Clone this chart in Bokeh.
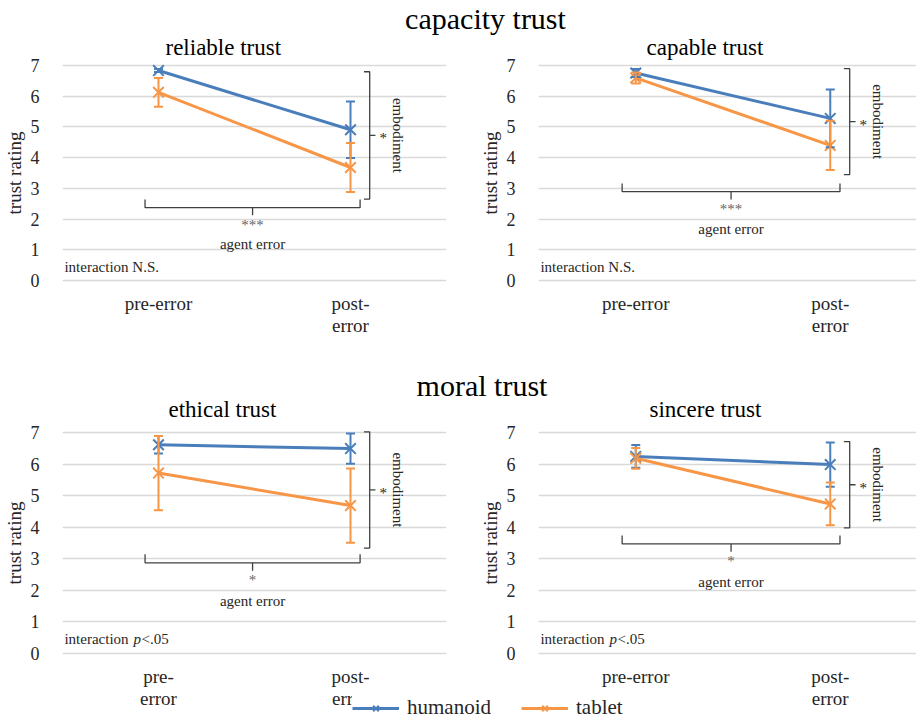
import math
from bokeh.plotting import figure
from bokeh.layouts import column, row
from bokeh.models import (Range1d, FixedTicker, Label, Legend, LegendItem,
                          ColumnDataSource, Whisker, TeeHead)
from bokeh.core.properties import value
from bokeh.embed import file_html
from bokeh.resources import INLINE

# ---------------- data ----------------
categories = ["pre-error", "post-error"]
series_names = ["humanoid", "tablet"]
group_titles = ["capacity trust", "moral trust"]
panel_titles = ["reliable trust", "capable trust", "ethical trust", "sincere trust"]

reliable_humanoid = [6.84, 4.91]
reliable_humanoid_err = [0.05, 0.92]
reliable_tablet = [6.13, 3.68]
reliable_tablet_err = [0.47, 0.80]

capable_humanoid = [6.76, 5.28]
capable_humanoid_err = [0.13, 0.94]
capable_tablet = [6.60, 4.40]
capable_tablet_err = [0.18, 0.80]

ethical_humanoid = [6.62, 6.50]
ethical_humanoid_err = [0.28, 0.48]
ethical_tablet = [5.72, 4.69]
ethical_tablet_err = [1.18, 1.18]

sincere_humanoid = [6.25, 5.99]
sincere_humanoid_err = [0.36, 0.70]
sincere_tablet = [6.19, 4.74]
sincere_tablet_err = [0.33, 0.68]

y_ticks = [0, 1, 2, 3, 4, 5, 6, 7]
tick_labels = [["pre-error", "post-\nerror"],
               ["pre-error", "post-\nerror"],
               ["pre-\nerror", "post-\nerror"],
               ["pre-error", "post-\nerror"]]

agent_error_sig = ["***", "***", "*", "*"]
embodiment_sig = ["*", "*", "*", "*"]
interaction_result = ["N.S.", "N.S.", "p<.05", "p<.05"]

# significance bracket levels
agent_bracket_y = [2.37, 2.89, 2.87, 3.47]
embodiment_top = [6.80, 6.90, 7.03, 6.72]
embodiment_bottom = [2.65, 3.45, 3.34, 3.98]

# ---------------- style ----------------
BLUE = "#4A7EBB"
ORANGE = "#F79646"
FONT = "Liberation Serif"
TXT = "#262626"
UNIT = 194.5  # px per category unit
NAN = float("nan")
title_offset = [103, 108, 106, 111]
title_standoff = [0, 0, 10, 10]
MARKER = 15


def make_panel(idx, h_mean, h_err, t_mean, t_err, width, height,
               bl, br, bt, bb):
    frame_w = width - bl - br
    p = figure(width=width, height=height,
               x_range=Range1d(0, frame_w / UNIT), y_range=Range1d(-0.2, 7.2),
               output_backend="svg", toolbar_location=None,
               min_border_left=bl, min_border_right=br,
               min_border_top=bt, min_border_bottom=bb)
    p.outline_line_color = None
    p.background_fill_color = "white"
    p.border_fill_alpha = 0

    p.title.text = panel_titles[idx]
    p.title.text_font = FONT
    p.title.text_font_size = "23px"
    p.title.text_font_style = "normal"
    p.title.text_color = "#000000"
    p.title.align = "left"
    p.title.offset = title_offset[idx]
    p.title.standoff = title_standoff[idx]

    p.xgrid.visible = False
    p.ygrid.grid_line_color = "#D9D9D9"
    p.ygrid.grid_line_width = 1.3
    p.yaxis.ticker = FixedTicker(ticks=y_ticks)
    p.yaxis.axis_line_color = None
    p.yaxis.major_tick_line_color = None
    p.yaxis.minor_tick_line_color = None
    p.yaxis.major_label_text_font = FONT
    p.yaxis.major_label_text_font_size = "18px"
    p.yaxis.major_label_text_color = TXT
    p.yaxis.major_label_standoff = 17
    p.yaxis.axis_label = "trust rating"
    p.yaxis.axis_label_text_font = FONT
    p.yaxis.axis_label_text_font_size = "19px"
    p.yaxis.axis_label_text_font_style = "normal"
    p.yaxis.axis_label_text_color = TXT
    p.yaxis.axis_label_standoff = 3

    xs = [i + 0.5 for i in range(len(categories))]
    p.xaxis.ticker = FixedTicker(ticks=xs)
    p.xaxis.major_label_overrides = {x: lab for x, lab in zip(xs, tick_labels[idx])}
    p.xaxis.axis_line_color = None
    p.xaxis.major_tick_line_color = None
    p.xaxis.minor_tick_line_color = None
    p.xaxis.major_label_text_font = FONT
    p.xaxis.major_label_text_font_size = "19px"
    p.xaxis.major_label_text_color = TXT
    p.xaxis.major_label_text_line_height = 1.05
    p.xaxis.major_label_standoff = 0

    for mean, err, col in ((h_mean, h_err, BLUE), (t_mean, t_err, ORANGE)):
        src = ColumnDataSource(dict(x=xs, y=mean,
                                    lo=[m - e for m, e in zip(mean, err)],
                                    hi=[m + e for m, e in zip(mean, err)]))
        p.line("x", "y", source=src, line_color=col, line_width=3)
        w = Whisker(base="x", lower="lo", upper="hi", source=src,
                    line_color=col, line_width=2, level="glyph",
                    upper_head=TeeHead(size=9, line_color=col, line_width=2),
                    lower_head=TeeHead(size=9, line_color=col, line_width=2))
        p.add_layout(w)
        p.scatter("x", "y", source=src, marker="x", size=MARKER,
                  line_color=col, line_width=2)

    # agent error bracket (horizontal, below)
    yb = agent_bracket_y[idx]
    x0, x1 = xs[0] - 0.07, xs[1] + 0.05
    xc = (x0 + x1) / 2
    p.multi_line([[x0, x0, x1, x1], [xc, xc]],
                 [[yb + 0.27, yb, yb, yb + 0.27], [yb, yb - 0.25]],
                 line_color="#404040", line_width=1.3)
    p.text([xc], [yb - 0.55], text=[agent_error_sig[idx]],
           text_font=value(FONT), text_font_size="15px", text_color="#666666",
           text_align="center", text_baseline="middle")
    p.text([xc], [yb - 1.2], text=["agent error"],
           text_font=value(FONT), text_font_size="15px", text_color=TXT,
           text_align="center", text_baseline="middle")

    # embodiment bracket (vertical, right)
    xe = xs[1] + 0.1
    yt, ybt = embodiment_top[idx], embodiment_bottom[idx]
    ym = (yt + ybt) / 2
    p.multi_line([[xe - 0.03, xe, xe, xe - 0.03], [xe, xe + 0.03]],
                 [[yt, yt, ybt, ybt], [ym, ym]],
                 line_color="#404040", line_width=1.3)
    p.text([xe + 0.07], [ym - 0.1], text=[embodiment_sig[idx]],
           text_font=value(FONT), text_font_size="15px", text_color=TXT,
           text_align="center", text_baseline="middle")
    p.text([xe + 0.145], [ym], text=["embodiment"], angle=-math.pi / 2,
           text_font=value(FONT), text_font_size="15px", text_color=TXT,
           text_align="center", text_baseline="middle")

    # interaction note
    res = interaction_result[idx]
    if res.startswith("p"):
        parts = [("interaction", "normal", 0), ("p", "italic", 69), (res[1:], "normal", 77)]
    else:
        parts = [("interaction " + res, "normal", 0)]
    for txt, style, off in parts:
        p.add_layout(Label(x=0.01, y=0.45, x_offset=off, text=txt,
                           text_font=FONT, text_font_size="15px",
                           text_font_style=style, text_color=TXT,
                           text_align="left", text_baseline="middle"))
    return p


def heading_strip(height, x, y, txt, margin):
    p = figure(width=916, height=height, x_range=Range1d(0, 916),
               y_range=Range1d(0, height), output_backend="svg",
               toolbar_location=None, x_axis_location=None,
               y_axis_location=None, min_border=0, margin=margin)
    p.outline_line_color = None
    p.background_fill_color = "white"
    p.border_fill_color = "white"
    p.grid.visible = False
    p.add_layout(Label(x=x, y=y, text=txt, text_font=FONT,
                       text_font_size="30px", text_color="#000000",
                       text_align="center", text_baseline="middle"))
    return p


# heading strips sit partly underneath the (transparent-bordered) panels
strip1 = heading_strip(40, 485, 22, group_titles[0], (0, 0, -10, 0))
strip2 = heading_strip(60, 481.5, 20, group_titles[1], (0, 0, -17, 0))

p1 = make_panel(0, reliable_humanoid, reliable_humanoid_err, reliable_tablet,
                reliable_tablet_err, 460, 315, 57, 14, 29, 59)
p2 = make_panel(1, capable_humanoid, capable_humanoid_err, capable_tablet,
                capable_tablet_err, 456, 315, 78, 0, 29, 59)
p3 = make_panel(2, ethical_humanoid, ethical_humanoid_err, ethical_tablet,
                ethical_tablet_err, 460, 332, 57, 14, 38, 61)
p4 = make_panel(3, sincere_humanoid, sincere_humanoid_err, sincere_tablet,
                sincere_tablet_err, 456, 332, 78, 0, 38, 61)

# legend strip overlapping the bottom of the lower row
lg = figure(width=916, height=24, x_range=Range1d(0, 916), y_range=Range1d(0, 24),
            output_backend="svg", toolbar_location=None, x_axis_location=None,
            y_axis_location=None, min_border=0, margin=(-24, 0, 0, 0))
lg.outline_line_color = None
lg.background_fill_alpha = 0
lg.border_fill_alpha = 0
lg.grid.visible = False
items = []
for name, col in zip(series_names, (BLUE, ORANGE)):
    r1 = lg.line([NAN], [NAN], line_color=col, line_width=3)
    r2 = lg.scatter([NAN], [NAN], marker="x", size=MARKER, line_color=col, line_width=2)
    items.append(LegendItem(label=name, renderers=[r1, r2]))
leg = Legend(items=items, orientation="horizontal", location=(352, 0),
             glyph_width=47, glyph_height=20, label_standoff=8, spacing=30,
             padding=0, margin=0, border_line_color=None,
             background_fill_color="white", background_fill_alpha=1,
             label_text_font=FONT, label_text_font_size="21px",
             label_text_color=TXT, label_height=20)
lg.add_layout(leg)

layout = column(strip1, row(p1, p2), strip2, row(p3, p4), lg)

open("out.html", "w").write(file_html(layout, INLINE))
